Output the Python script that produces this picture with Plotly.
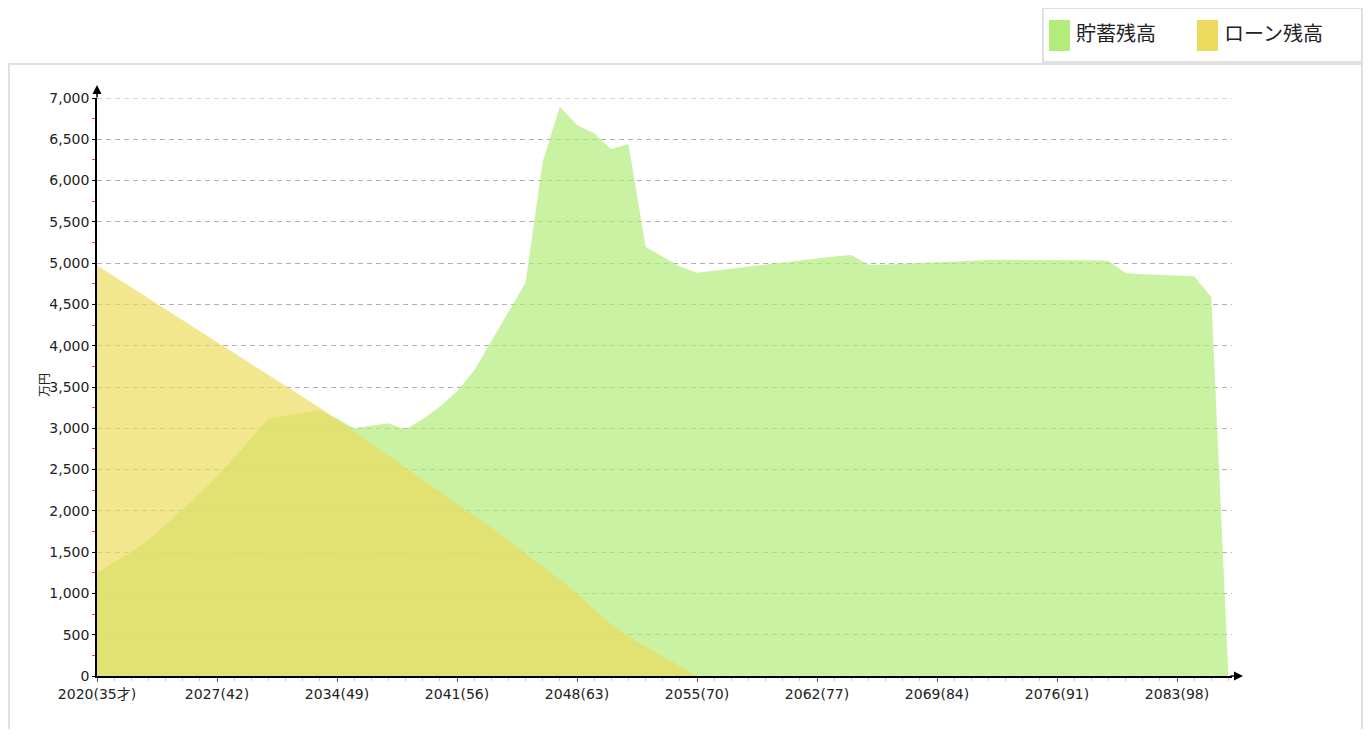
import plotly.graph_objects as go

# ---------------- data ----------------
years = list(range(2020, 2087))

savings = [1244, 1380, 1500, 1650, 1830, 2020, 2213, 2420, 2640, 2880,
           3120, 3150, 3185, 3222, 3120, 3000, 3030, 3060, 2985, 3110,
           3262, 3450, 3700, 4050, 4400, 4763, 6229, 6895, 6673, 6573,
           6379, 6443, 5199, 5080, 4960, 4885, 4910, 4935, 4960, 4985,
           5010, 5035, 5060, 5080, 5100, 4980, 4985, 4995, 5005, 5015,
           5025, 5030, 5038, 5040, 5040, 5040, 5040, 5040, 5035, 5030,
           4880, 4865, 4855, 4845, 4840, 4590, 0]

loan_years = list(range(2020, 2056))
loan = [4970, 4838, 4705, 4572, 4439, 4306, 4173, 4040, 3907, 3774,
        3641, 3508, 3375, 3250, 3105, 2960, 2815, 2670, 2525, 2380,
        2235, 2090, 1945, 1795, 1640, 1485, 1330, 1165, 1000, 805,
        625, 480, 355, 236, 118, 0]

x_tick_vals = [2020, 2027, 2034, 2041, 2048, 2055, 2062, 2069, 2076, 2083]
x_tick_text = ["2020(35才)", "2027(42)", "2034(49)", "2041(56)", "2048(63)",
               "2055(70)", "2062(77)", "2069(84)", "2076(91)", "2083(98)"]
y_tick_vals = list(range(0, 7001, 500))
y_tick_text = [f"{v:,}" for v in y_tick_vals]
y_max = 7000

series_names = ["貯蓄残高", "ローン残高"]
legend_colors = ["#b2ec7b", "#ecdb5e"]
fill_colors = ["rgba(178,236,123,0.7)", "rgba(236,219,94,0.7)"]

# ---------------- layout geometry ----------------
OFF = 8  # page body margin
WIDTH, HEIGHT = 1371 - 2 * OFF, 737 - 2 * OFF
L = 97 - OFF
T = 98 - OFF
B = HEIGHT - (676 - OFF)
R = WIDTH - (1232 - OFF)
PW = WIDTH - L - R
PH = HEIGHT - T - B


def px_x(p):
    """reference-screen x pixel -> paper coordinate"""
    return (p - OFF - L) / PW


def px_y(p):
    """reference-screen y pixel -> paper coordinate"""
    return (HEIGHT - B - (p - OFF)) / PH


FONT = "DejaVu Sans, Noto Sans CJK JP, sans-serif"

fig = go.Figure()
fig.add_trace(go.Scatter(x=years, y=savings, mode="lines", fill="tozeroy",
                         line=dict(width=0, color=legend_colors[0]),
                         fillcolor=fill_colors[0], name=series_names[0],
                         showlegend=False, hoverinfo="x+y"))
fig.add_trace(go.Scatter(x=loan_years, y=loan, mode="lines", fill="tozeroy",
                         line=dict(width=0, color=legend_colors[1]),
                         fillcolor=fill_colors[1], name=series_names[1],
                         showlegend=False, hoverinfo="x+y"))

shapes = []
annotations = []

# outer frame
shapes.append(dict(type="rect", xref="paper", yref="paper",
                   x0=px_x(9), x1=px_x(1362), y0=px_y(760), y1=px_y(64),
                   line=dict(color="#e0e0e0", width=2), fillcolor="rgba(0,0,0,0)",
                   layer="below"))
# legend box
shapes.append(dict(type="rect", xref="paper", yref="paper",
                   x0=px_x(1043), x1=px_x(1362), y0=px_y(62), y1=px_y(8),
                   line=dict(color="#e0e0e0", width=2), fillcolor="white",
                   layer="below"))
# top gridline (edge of range)
shapes.append(dict(type="line", xref="paper", yref="y", x0=0, x1=1,
                   y0=y_max, y1=y_max,
                   line=dict(color="#b0b0b0", width=1, dash="5px,4px"),
                   layer="below"))
# legend swatches + labels
sw_x = [1049, 1197]
tx_x = [1076, 1224]
for i in range(2):
    shapes.append(dict(type="rect", xref="paper", yref="paper",
                       x0=px_x(sw_x[i]), x1=px_x(sw_x[i] + 21),
                       y0=px_y(51), y1=px_y(20),
                       line=dict(width=0), fillcolor=legend_colors[i]))
    annotations.append(dict(xref="paper", yref="paper", x=px_x(tx_x[i] - 2),
                            y=px_y(34), xanchor="left", yanchor="middle",
                            text=series_names[i], showarrow=False,
                            font=dict(family=FONT, size=20, color="#222")))

# axis arrows
annotations.append(dict(xref="paper", yref="paper", x=px_x(1243), y=0,
                        ax=-14, ay=0, axref="pixel", ayref="pixel",
                        showarrow=True, arrowhead=2, arrowsize=1.2, arrowwidth=1.5,
                        arrowcolor="black", text=""))
annotations.append(dict(xref="paper", yref="paper", x=0, y=px_y(85),
                        ax=0, ay=14, axref="pixel", ayref="pixel",
                        showarrow=True, arrowhead=2, arrowsize=1.2, arrowwidth=1.5,
                        arrowcolor="black", text=""))
# y-axis title
annotations.append(dict(xref="paper", yref="paper", x=px_x(45), y=px_y(385),
                        xanchor="center", yanchor="middle",
                        text="万円", textangle=-90, showarrow=False,
                        font=dict(family=FONT, size=12, color="#222")))

fig.update_layout(
    width=WIDTH, height=HEIGHT,
    margin=dict(l=L, r=R, t=T, b=B, pad=0),
    paper_bgcolor="white", plot_bgcolor="white",
    font=dict(family=FONT, size=14, color="#333"),
    shapes=shapes, annotations=annotations,
    showlegend=False,
)
fig.update_xaxes(
    range=[2020, 2020 + (1232 - 97) / (120 / 7)],
    tickmode="array", tickvals=x_tick_vals, ticktext=x_tick_text,
    showgrid=False, zeroline=False,
    showline=True, linecolor="black", linewidth=2,
    ticks="outside", ticklen=4, tickcolor="#555", tickwidth=1,
    tickfont=dict(family=FONT, size=14, color="#222"),
    minor=dict(ticks="outside", ticklen=3, tickcolor="#ccc", dtick=1, showgrid=False),
)
fig.update_yaxes(
    range=[0, y_max],
    tickmode="array", tickvals=y_tick_vals, ticktext=y_tick_text,
    showgrid=True, gridcolor="#b0b0b0", griddash="5px,4px", gridwidth=1,
    zeroline=False,
    showline=True, linecolor="black", linewidth=1.5,
    ticks="outside", ticklen=3, tickcolor="black",
    tickfont=dict(family=FONT, size=14, color="#222"),
    minor=dict(ticks="outside", ticklen=3, tickcolor="#ff4444", dtick=250,
               tick0=250, showgrid=False),
)

fig.write_html("out.html")
